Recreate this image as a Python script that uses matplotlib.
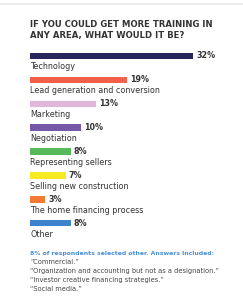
import matplotlib.pyplot as plt

categories = ['Technology', 'Lead generation and conversion', 'Marketing', 'Negotiation',
              'Representing sellers', 'Selling new construction',
              'The home financing process', 'Other']
values = [32, 19, 13, 10, 8, 7, 3, 8]
colors = ['#27275e', '#f2604a', '#e2b6da', '#7558a8', '#58b95a', '#f7ea22', '#f27a33', '#3d84cc']

title = 'IF YOU COULD GET MORE TRAINING IN\nANY AREA, WHAT WOULD IT BE?'
note_head = '8% of respondents selected other. Answers Included:'
note_lines = ['\u201cCommercial.\u201d',
              '\u201cOrganization and accounting but not as a designation.\u201d',
              '\u201cInvestor creative financing strategies.\u201d',
              '\u201cSocial media.\u201d']

W, H = 243, 300
fig = plt.figure(figsize=(W / 100, H / 100), dpi=100)
fig.patch.set_facecolor('white')

# faint rule at the top
fig.add_artist(plt.Line2D([0, 1], [1 - 4 / H, 1 - 4 / H], color='#eeeeee', lw=1.5))

fig.text(30 / W, 1 - 20 / H, title, fontsize=6.1, fontweight='bold', color='#333333',
         va='top', ha='left', linespacing=1.3)

# bar axes: 0% at x=30px, ~5.1 px per percent
px_per = 5.1
left, right = 30, 243
top, step = 44, 23.9
ax = fig.add_axes([left / W, 1 - (top + 8 * step) / H, (right - left) / W, 8 * step / H])
ax.set_xlim(0, (right - left) / px_per)
ax.set_ylim(7.5, -0.5)
ax.axis('off')

pos = list(range(len(categories)))
ax.barh(pos, values, height=0.27, color=colors, left=0)
for i, (c, v) in enumerate(zip(categories, values)):
    ax.text(v + 0.55, i, f'{v}%', fontsize=5.8, fontweight='bold', color='#333333',
            va='center', ha='left')
    ax.text(0, i + 0.46, c, fontsize=5.8, color='#333333', va='center', ha='left')

fig.text(30 / W, 1 - 253 / H, note_head, fontsize=4.4, fontweight='bold', color='#4a90d6',
         va='center', ha='left')
for k, line in enumerate(note_lines):
    fig.text(30 / W, 1 - (262 + 9 * k) / H, line, fontsize=4.8, color='#444444',
             va='center', ha='left')

fig.savefig('out.png', dpi=100, facecolor='white')
